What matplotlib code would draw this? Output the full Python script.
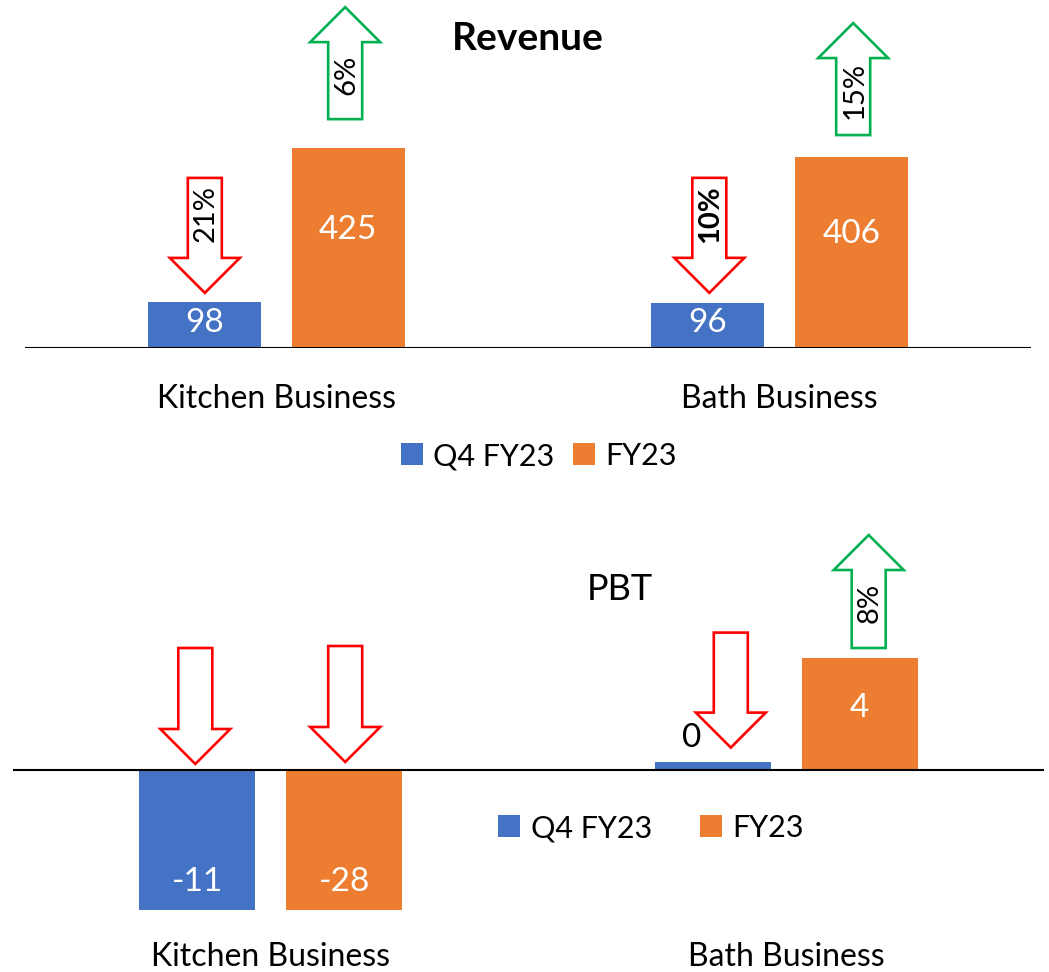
import numpy as np
import matplotlib.pyplot as plt
from matplotlib.patches import Polygon
from matplotlib.transforms import Affine2D, ScaledTranslation

plt.rcParams['font.family'] = ['Lato', 'DejaVu Sans']

# ---- data ----
categories = ["Kitchen Business", "Bath Business"]
series = ["Q4 FY23", "FY23"]

rev_q4 = [98, 96]
rev_fy = [425, 406]
rev_q4_chg = ["21%", "10%"]
rev_q4_up = [False, False]
rev_fy_chg = ["6%", "15%"]
rev_fy_up = [True, True]

pbt_q4 = [-11, 0.3]
pbt_fy = [-28, 4]
pbt_q4_chg = ["", ""]
pbt_q4_up = [False, False]
pbt_fy_chg = ["", "8%"]
pbt_fy_up = [False, True]

BLUE = "#4472C4"
ORANGE = "#ED7D31"
RED = "#FF0000"
GREEN = "#00B050"
W, H = 1049, 972
DPI = 100

fig = plt.figure(figsize=(W / DPI, H / DPI), dpi=DPI)


def px_axes(left, right, top, bottom):
    return fig.add_axes([left / W, 1 - bottom / H, (right - left) / W, (bottom - top) / H])


def fat_arrow(ax, x, y, dx, dy, length, up, color, label="", bold=False):
    sw, hw, hl = 17, 35, 35
    if up:
        verts = [(-sw, 0), (sw, 0), (sw, length - hl), (hw, length - hl),
                 (0, length), (-hw, length - hl), (-sw, length - hl)]
        ty = (length - hl) / 2 + 6
    else:
        verts = [(-sw, length), (sw, length), (sw, hl), (hw, hl),
                 (0, 0), (-hw, hl), (-sw, hl)]
        ty = (length + hl) / 2 + 4
    verts = [(vx + dx, vy + dy) for vx, vy in verts]
    trans = Affine2D().scale(1 / DPI) + fig.dpi_scale_trans + ScaledTranslation(x, y, ax.transData)
    ax.add_patch(Polygon(verts, closed=True, facecolor="white", edgecolor=color,
                         lw=1.9, transform=trans, clip_on=False, zorder=5))
    if label:
        ax.text(dx + 1, dy + ty, label, transform=trans, rotation=90, ha="center", va="center",
                fontsize=21, fontweight="bold" if bold else "normal", color="black",
                zorder=6, clip_on=False)


def bar_label(ax, x, y, text, dx_px, dy_px, color):
    trans = Affine2D().scale(1 / DPI) + fig.dpi_scale_trans + ScaledTranslation(x, y, ax.transData)
    ax.text(dx_px, dy_px, text, transform=trans, ha="center", va="center",
            fontsize=24, color=color, zorder=4)


def panel(ax, q4, fy, ylim, label_pad, lab_off):
    x = np.arange(len(categories))
    off, bw = 0.1425, 0.225
    b1 = ax.bar(x - off, q4, bw, color=BLUE, zorder=2)
    b2 = ax.bar(x + off, fy, bw, color=ORANGE, zorder=2)
    ax.axhline(0, color="black", lw=1.5, zorder=3)
    ax.set_xlim(-0.5, 1.5)
    ax.set_ylim(*ylim)
    for s in ax.spines.values():
        s.set_visible(False)
    ax.set_yticks([])
    ax.set_xticks(x, categories)
    ax.tick_params(axis="x", length=0, pad=label_pad, labelsize=23)
    ax.patch.set_alpha(0)
    # value labels
    for j, vals in enumerate([q4, fy]):
        for i, v in enumerate(vals):
            xc = x[i] + (-off if j == 0 else off)
            vis = max(v, ylim[0])
            px_h = abs(ax.transData.transform((0, vis))[1] - ax.transData.transform((0, 0))[1])
            txt = "{:.0f}".format(v)
            if px_h < 30:
                bar_label(ax, xc, v, txt, -21, 24, "black")
            else:
                bar_label(ax, xc, vis / 2, txt, 0, lab_off[j][i], "white")
    return b1, b2


# ---- Revenue ----
ax1 = px_axes(25, 1031, 0, 348)
h1, h2 = panel(ax1, rev_q4, rev_fy, (0, 740), 26, [[2, 2], [18, 19]])
rev_arrows = [(0, 9, 115), (1.5, 10, 115)]
rev_arrows_fy = [(-3, 29, 112), (2, 22, 112)]
for i in range(2):
    dx, dy, L = rev_arrows[i]
    fat_arrow(ax1, i - 0.1425, rev_q4[i], dx, dy, L, rev_q4_up[i],
              GREEN if rev_q4_up[i] else RED, rev_q4_chg[i], bold=(i == 1))
    dx, dy, L = rev_arrows_fy[i]
    fat_arrow(ax1, i + 0.1425, rev_fy[i], dx, dy, L, rev_fy_up[i],
              GREEN if rev_fy_up[i] else RED, rev_fy_chg[i])

fig.text(528 / W, 1 - 38 / H, "Revenue", ha="center", va="center",
         fontsize=28, fontweight="bold")
fig.legend([h1, h2], series, loc="center", bbox_to_anchor=(539 / W, 1 - 456 / H),
           ncol=2, frameon=False, fontsize=22, handlelength=0.72, handleheight=0.72,
           handletextpad=0.35, columnspacing=0.6, borderpad=0, borderaxespad=0)

# ---- PBT ----
ax2 = px_axes(13, 1044, 490, 910)
g1, g2 = panel(ax2, pbt_q4, pbt_fy, (-5, 10), 23, [[-42, 0], [-42, 6]])
pbt_arrows = [(-2, 6, 116), (18, 14, 115)]
pbt_arrows_fy = [(1, 8, 116), (9, 10, 113)]
for i in range(2):
    dx, dy, L = pbt_arrows[i]
    fat_arrow(ax2, i - 0.1425, max(pbt_q4[i], 0), dx, dy, L, pbt_q4_up[i],
              GREEN if pbt_q4_up[i] else RED, pbt_q4_chg[i])
    dx, dy, L = pbt_arrows_fy[i]
    fat_arrow(ax2, i + 0.1425, max(pbt_fy[i], 0), dx, dy, L, pbt_fy_up[i],
              GREEN if pbt_fy_up[i] else RED, pbt_fy_chg[i])

fig.text(620 / W, 1 - 590 / H, "PBT", ha="center", va="center", fontsize=26)
fig.legend([g1, g2], series, loc="center", bbox_to_anchor=(651 / W, 1 - 828 / H),
           ncol=2, frameon=False, fontsize=22, handlelength=0.72, handleheight=0.72,
           handletextpad=0.35, columnspacing=1.55, borderpad=0, borderaxespad=0)

fig.savefig("out.png", dpi=DPI)
